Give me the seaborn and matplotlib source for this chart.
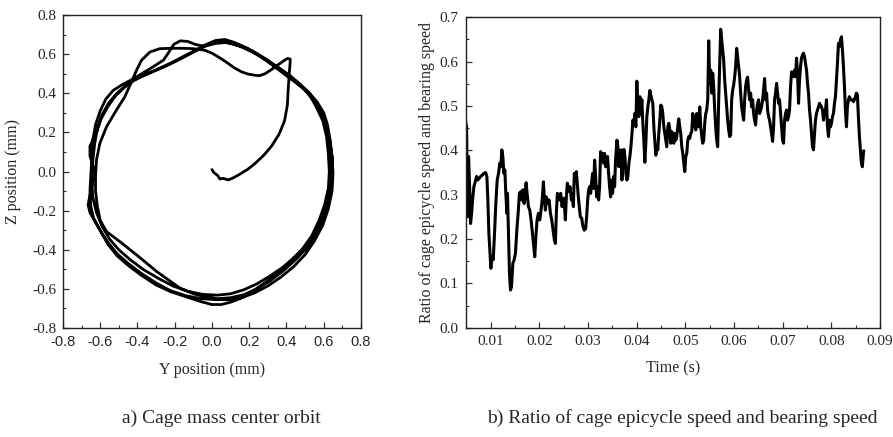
import numpy as np
import pandas as pd
import matplotlib
matplotlib.use("Agg")
import matplotlib.pyplot as plt
from matplotlib.ticker import MultipleLocator, FormatStrFormatter
import seaborn as sns

# ---------------- data: (a) cage mass center orbit ----------------
orbit_y = [
    0.000, 0.010, 0.030, 0.043, 0.060, 0.088, 0.115, 0.142, 0.190, 0.230, 0.280, 0.320, 0.360, 0.390, 0.405, 0.410, 0.415, 0.420, 0.420,
    0.405, 0.390, 0.365, 0.339, 0.310, 0.285, 0.255, 0.231, 0.195, 0.160, 0.120, 0.088, 0.060, 0.034, 0.000, -0.038,
    -0.100, -0.160, -0.220, -0.280, -0.333, -0.378, -0.405, -0.432, -0.468, -0.513, -0.566, -0.602, -0.620, -0.625, -0.625, -0.615, -0.600,
    -0.566, -0.495, -0.405, -0.297, -0.172, -0.100, -0.047, 0.030, 0.100,
    0.170, 0.240, 0.310, 0.380, 0.450, 0.510, 0.560, 0.600, 0.625, 0.635, 0.635, 0.630, 0.620, 0.600, 0.570, 0.530, 0.480, 0.420, 0.360,
    0.290, 0.220, 0.150, 0.090, 0.050, 0.000, -0.040, -0.080, -0.130, -0.190, -0.250, -0.310, -0.370, -0.420, -0.470, -0.520,
    -0.560, -0.595, -0.620, -0.655, -0.655, -0.635, -0.640, -0.655, -0.665, -0.655, -0.625, -0.595, -0.560, -0.510, -0.450, -0.380,
    -0.300, -0.220, -0.140, -0.060, 0.020, 0.090, 0.160, 0.230, 0.300, 0.370, 0.440, 0.500, 0.550, 0.595, 0.625, 0.645, 0.650, 0.645,
    0.630, 0.605, 0.575, 0.540, 0.490, 0.430, 0.360, 0.290, 0.220, 0.150, 0.080, 0.020, -0.040, -0.090, -0.130, -0.170, -0.205,
    -0.235, -0.260, -0.300, -0.360, -0.420, -0.480, -0.530, -0.570, -0.600, -0.625, -0.640, -0.645, -0.650, -0.655, -0.650, -0.635,
    -0.600, -0.560, -0.510, -0.450, -0.380, -0.300, -0.220, -0.140, -0.060, 0.000, 0.050, 0.100, 0.150, 0.200, 0.260, 0.320, 0.380,
    0.440, 0.490, 0.535, 0.575, 0.605, 0.625, 0.630, 0.625, 0.615, 0.595, 0.575, 0.560, 0.550, 0.520, 0.470, 0.400, 0.330, 0.260,
    0.190, 0.120, 0.070, 0.020, -0.030, -0.080, -0.150, -0.220, -0.300, -0.380, -0.450, -0.510, -0.555, -0.590, -0.615, -0.630,
    -0.640, -0.645, -0.640, -0.620, -0.590, -0.550, -0.500, -0.440, -0.370, -0.290, -0.210, -0.130, -0.050, 0.030, 0.100, 0.170,
    0.240, 0.310, 0.380, 0.440, 0.500, 0.545, 0.585, 0.615, 0.635, 0.645, 0.645, 0.635, 0.620, 0.600, 0.565, 0.520, 0.460, 0.390,
    0.320, 0.250, 0.180, 0.110, 0.060,
]
orbit_z = [
    0.010, -0.005, -0.020, -0.038, -0.035, -0.043, -0.032, -0.018, 0.010, 0.040, 0.085, 0.130, 0.190, 0.260, 0.340, 0.430, 0.500, 0.560, 0.575,
    0.578, 0.569, 0.552, 0.535, 0.515, 0.500, 0.490, 0.492, 0.498, 0.509, 0.530, 0.552, 0.570, 0.586, 0.605, 0.620,
    0.628, 0.630, 0.630, 0.628, 0.611, 0.569, 0.518, 0.458, 0.382, 0.314, 0.229, 0.144, 0.059, -0.020, -0.100, -0.180, -0.250,
    -0.307, -0.358, -0.426, -0.511, -0.596, -0.625, -0.638, -0.650, -0.645,
    -0.630, -0.600, -0.560, -0.510, -0.450, -0.390, -0.320, -0.240, -0.150, -0.060, 0.030, 0.120, 0.200, 0.270, 0.330, 0.390, 0.440, 0.490, 0.530,
    0.575, 0.615, 0.645, 0.665, 0.670, 0.660, 0.640, 0.620, 0.595, 0.565, 0.538, 0.513, 0.488, 0.465, 0.430, 0.385,
    0.330, 0.270, 0.200, 0.130, 0.080, 0.020, -0.050, -0.120, -0.170, -0.210, -0.260, -0.310, -0.360, -0.420, -0.470, -0.520,
    -0.570, -0.610, -0.635, -0.650, -0.655, -0.655, -0.645, -0.620, -0.585, -0.540, -0.485, -0.425, -0.355, -0.275, -0.190, -0.100, -0.010, 0.080,
    0.170, 0.260, 0.320, 0.370, 0.425, 0.475, 0.525, 0.570, 0.610, 0.640, 0.660, 0.655, 0.640, 0.650, 0.665, 0.668, 0.650,
    0.605, 0.570, 0.545, 0.510, 0.475, 0.445, 0.415, 0.370, 0.310, 0.240, 0.160, 0.070, -0.020, -0.100, -0.180, -0.240,
    -0.300, -0.370, -0.430, -0.480, -0.530, -0.580, -0.615, -0.640, -0.665, -0.680, -0.680, -0.668, -0.650, -0.625, -0.585, -0.545, -0.500,
    -0.445, -0.390, -0.330, -0.250, -0.170, -0.085, 0.000, 0.090, 0.180, 0.260, 0.300, 0.330, 0.348, 0.400, 0.440, 0.490, 0.540, 0.590,
    0.630, 0.660, 0.675, 0.670, 0.650, 0.625, 0.590, 0.555, 0.520, 0.490, 0.450, 0.400, 0.350, 0.290, 0.220, 0.140,
    0.050, -0.040, -0.130, -0.210, -0.280, -0.345, -0.400, -0.450, -0.500, -0.545, -0.585, -0.612, -0.628, -0.632, -0.625, -0.605,
    -0.575, -0.535, -0.490, -0.440, -0.385, -0.325, -0.260, -0.185, -0.105, -0.020, 0.070, 0.160, 0.240, 0.300, 0.355, 0.405, 0.455, 0.505,
    0.550, 0.595, 0.632, 0.655, 0.660,
]

# ---------------- data: (b) ratio of cage epicycle speed and bearing speed ----------------
time_ms = [
    4.88, 5.08, 5.29, 5.49, 5.70, 5.90, 6.11, 6.31, 6.58, 6.86, 7.13, 7.40, 7.68, 7.95, 8.29, 8.63, 8.98, 9.25, 9.45, 9.66,
    9.86, 10.07, 10.27, 10.55, 10.82, 11.09, 11.37, 11.64, 11.91, 12.12, 12.32, 12.53, 12.73, 12.94, 13.14, 13.35, 13.48, 13.69, 13.89, 14.10,
    14.30, 14.58, 14.85, 15.12, 15.40, 15.67, 15.94, 16.22, 16.42, 16.63, 16.90, 17.10, 17.31, 17.51, 17.79, 18.06, 18.33, 18.61, 18.88, 19.08,
    19.36, 19.56, 19.84, 20.11, 20.38, 20.66, 20.86, 21.07, 21.27, 21.48, 21.75, 22.02, 22.30, 22.57, 22.84, 23.11, 23.32, 23.52, 23.73, 24.00,
    24.21, 24.41, 24.69, 24.96, 25.16, 25.37, 25.57, 25.78, 26.05, 26.33, 26.60, 26.80, 27.01, 27.21, 27.42, 27.62, 27.83, 28.03, 28.24, 28.44,
    28.72, 28.99, 29.26, 29.54, 29.74, 29.95, 30.15, 30.36, 30.56, 30.77, 30.97, 31.17, 31.38, 31.58, 31.79, 31.99, 32.20, 32.40, 32.61, 32.81,
    33.02, 33.22, 33.43, 33.63, 33.84, 34.04, 34.25, 34.45, 34.66, 34.86, 35.07, 35.27, 35.48, 35.68, 35.96, 36.16, 36.37, 36.57, 36.78, 36.98,
    37.19, 37.39, 37.60, 37.80, 38.01, 38.21, 38.42, 38.62, 38.83, 39.03, 39.23, 39.44, 39.64, 39.85, 40.05, 40.26, 40.46, 40.67, 40.87, 41.08,
    41.28, 41.49, 41.69, 41.90, 42.10, 42.31, 42.51, 42.72, 42.92, 43.13, 43.33, 43.54, 43.74, 43.95, 44.15, 44.36, 44.56, 44.77, 44.97, 45.18,
    45.38, 45.59, 45.79, 46.00, 46.20, 46.41, 46.61, 46.82, 47.02, 47.23, 47.43, 47.64, 47.84, 48.05, 48.25, 48.46, 48.66, 48.87, 49.07, 49.28,
    49.48, 49.69, 49.89, 50.10, 50.30, 50.51, 50.71, 50.92, 51.12, 51.33, 51.53, 51.74, 51.94, 52.15, 52.35, 52.56, 52.76, 52.97, 53.17, 53.38,
    53.58, 53.79, 53.99, 54.20, 54.40, 54.61, 54.81, 55.01, 55.22, 55.42, 55.63, 55.83, 56.04, 56.24, 56.45, 56.65, 56.86, 57.06, 57.27, 57.47,
    57.68, 57.88, 58.09, 58.29, 58.50, 58.70, 58.91, 59.11, 59.32, 59.52, 59.73, 59.93, 60.14, 60.34, 60.55, 60.75, 60.96, 61.16, 61.37, 61.57,
    61.78, 61.98, 62.19, 62.39, 62.60, 62.80, 63.01, 63.21, 63.42, 63.62, 63.83, 64.03, 64.24, 64.44, 64.65, 64.85, 65.06, 65.26, 65.47, 65.67,
    65.88, 66.08, 66.29, 66.49, 66.70, 66.90, 67.11, 67.31, 67.52, 67.72, 67.93, 68.13, 68.34, 68.54, 68.75, 68.95, 69.16, 69.36, 69.57, 69.77,
    69.98, 70.18, 70.39, 70.59, 70.80, 71.00, 71.21, 71.41, 71.62, 71.82, 72.03, 72.23, 72.44, 72.64, 72.85, 73.05, 73.26, 73.46, 73.67, 73.87,
    74.08, 74.28, 74.49, 74.69, 74.90, 75.10, 75.31, 75.51, 75.72, 75.92, 76.13, 76.33, 76.54, 76.74, 76.95, 77.15, 77.36, 77.56, 77.77, 77.97,
    78.18, 78.38, 78.59, 78.79, 79.00, 79.20, 79.41, 79.61, 79.82, 80.02, 80.23, 80.43, 80.64, 80.84, 81.05, 81.25, 81.46, 81.66, 81.87, 82.07,
    82.28, 82.48, 82.69, 82.89, 83.10, 83.30, 83.51, 83.71, 83.92, 84.12, 84.32, 84.53, 84.73, 84.94, 85.14, 85.35, 85.55, 85.76, 85.96, 86.17,
    86.37, 86.58, 86.65,
]
speed_ratio = [
    0.465, 0.453, 0.250, 0.386, 0.318, 0.235, 0.258, 0.288, 0.318, 0.329, 0.341, 0.333, 0.337, 0.341, 0.344, 0.348, 0.350, 0.341, 0.288, 0.213,
    0.175, 0.134, 0.160, 0.153, 0.213, 0.280, 0.333, 0.348, 0.371, 0.363, 0.401, 0.386, 0.348, 0.356, 0.303, 0.258, 0.303, 0.213, 0.123, 0.085,
    0.092, 0.145, 0.153, 0.168, 0.220, 0.258, 0.303, 0.307, 0.288, 0.311, 0.280, 0.303, 0.327, 0.303, 0.273, 0.265, 0.243, 0.213, 0.183, 0.160,
    0.213, 0.243, 0.258, 0.243, 0.265, 0.295, 0.329, 0.288, 0.265, 0.295, 0.280, 0.288, 0.258, 0.243, 0.220, 0.198, 0.190, 0.258, 0.303, 0.295,
    0.288, 0.303, 0.273, 0.292, 0.280, 0.243, 0.295, 0.326, 0.307, 0.318, 0.288, 0.299, 0.273, 0.348, 0.333, 0.352, 0.322, 0.295, 0.273, 0.250,
    0.247, 0.228, 0.220, 0.224, 0.250, 0.288, 0.311, 0.318, 0.303, 0.329, 0.348, 0.314, 0.378, 0.341, 0.295, 0.318, 0.288, 0.318, 0.397, 0.386,
    0.393, 0.371, 0.393, 0.363, 0.371, 0.386, 0.348, 0.318, 0.295, 0.333, 0.303, 0.341, 0.318, 0.378, 0.423, 0.408, 0.363, 0.386, 0.401, 0.333,
    0.371, 0.402, 0.386, 0.348, 0.333, 0.341, 0.371, 0.386, 0.408, 0.435, 0.468, 0.461, 0.483, 0.453, 0.556, 0.498, 0.476, 0.521, 0.483, 0.514,
    0.461, 0.423, 0.373, 0.416, 0.476, 0.498, 0.514, 0.535, 0.525, 0.514, 0.506, 0.453, 0.423, 0.389, 0.408, 0.401, 0.438, 0.468, 0.502, 0.498,
    0.483, 0.453, 0.438, 0.423, 0.408, 0.453, 0.461, 0.446, 0.416, 0.442, 0.431, 0.416, 0.438, 0.423, 0.431, 0.453, 0.471, 0.453, 0.438, 0.408,
    0.393, 0.371, 0.352, 0.386, 0.393, 0.423, 0.431, 0.427, 0.438, 0.442, 0.483, 0.453, 0.476, 0.446, 0.483, 0.468, 0.453, 0.498, 0.453, 0.431,
    0.416, 0.423, 0.461, 0.483, 0.491, 0.514, 0.647, 0.551, 0.581, 0.529, 0.574, 0.544, 0.491, 0.453, 0.423, 0.408, 0.514, 0.589, 0.673, 0.649,
    0.626, 0.604, 0.559, 0.529, 0.498, 0.468, 0.446, 0.431, 0.435, 0.514, 0.536, 0.547, 0.566, 0.589, 0.630, 0.611, 0.589, 0.566, 0.529, 0.498,
    0.483, 0.468, 0.514, 0.544, 0.559, 0.565, 0.536, 0.514, 0.529, 0.498, 0.514, 0.483, 0.468, 0.457, 0.491, 0.506, 0.514, 0.483, 0.491, 0.498,
    0.514, 0.536, 0.562, 0.514, 0.529, 0.491, 0.476, 0.468, 0.453, 0.438, 0.420, 0.453, 0.514, 0.529, 0.551, 0.529, 0.506, 0.514, 0.483, 0.453,
    0.423, 0.416, 0.468, 0.483, 0.491, 0.468, 0.476, 0.491, 0.544, 0.577, 0.574, 0.566, 0.581, 0.566, 0.608, 0.574, 0.506, 0.559, 0.589, 0.608,
    0.615, 0.619, 0.611, 0.596, 0.581, 0.551, 0.529, 0.491, 0.468, 0.438, 0.408, 0.401, 0.438, 0.468, 0.483, 0.491, 0.498, 0.506, 0.502, 0.498,
    0.491, 0.468, 0.483, 0.491, 0.514, 0.453, 0.431, 0.468, 0.453, 0.461, 0.476, 0.483, 0.506, 0.521, 0.559, 0.596, 0.641, 0.634, 0.649, 0.656,
    0.626, 0.589, 0.544, 0.491, 0.453, 0.498, 0.514, 0.521, 0.514, 0.514, 0.514, 0.510, 0.514, 0.521, 0.529, 0.525, 0.476, 0.431, 0.401, 0.371,
    0.363, 0.393, 0.399,
]

orbit_xticks = [-0.8, -0.6, -0.4, -0.2, 0.0, 0.2, 0.4, 0.6, 0.8]
time_xticks = [0.01, 0.02, 0.03, 0.04, 0.05, 0.06, 0.07, 0.08, 0.09]

# ---------------- style ----------------
sns.set_style("ticks")
plt.rcParams["font.family"] = ["Liberation Serif", "DejaVu Serif"]
plt.rcParams["axes.unicode_minus"] = False
plt.rcParams["axes.edgecolor"] = "#222222"
plt.rcParams["axes.linewidth"] = 1.0

orbit_df = pd.DataFrame({"Y": orbit_y, "Z": orbit_z})
speed_df = pd.DataFrame({"t": np.array(time_ms) / 1000.0, "r": speed_ratio})

fig = plt.figure(figsize=(8.93, 4.37), dpi=100)
ax1 = fig.add_axes([0.0705, 0.2494, 0.3337, 0.7162])
ax2 = fig.add_axes([0.5215, 0.2501, 0.4640, 0.7103])

sns.lineplot(data=orbit_df, x="Y", y="Z", sort=False, estimator=None,
             color="black", linewidth=2.0, ax=ax1)
sns.lineplot(data=speed_df, x="t", y="r", sort=False, estimator=None,
             color="black", linewidth=2.2, ax=ax2)

# ----- left axes -----
ax1.set_xlim(-0.8, 0.8)
ax1.set_ylim(-0.8, 0.8)
ax1.set_xticks(orbit_xticks)
ax1.set_yticks(orbit_xticks)
ax1.xaxis.set_minor_locator(MultipleLocator(0.1))
ax1.yaxis.set_minor_locator(MultipleLocator(0.1))
ax1.xaxis.set_major_formatter(FormatStrFormatter("%.1f"))
ax1.yaxis.set_major_formatter(FormatStrFormatter("%.1f"))
for lab in ax1.get_xticklabels():
    lab.set_family(["Liberation Sans", "DejaVu Sans"])
    lab.set_fontsize(10.5)
for lab in ax1.get_yticklabels():
    lab.set_fontsize(11)
ax1.set_xlabel("Y position (mm)", fontsize=11.5)
ax1.set_ylabel("Z position (mm)", fontsize=11.5)
ax1.xaxis.set_label_coords(0.5, -0.11)
ax1.yaxis.set_label_coords(-0.14, 0.5)

# ----- right axes -----
ax2.set_xlim(0.0049, 0.09)
ax2.set_ylim(0.0, 0.7)
ax2.set_xticks(time_xticks)
ax2.xaxis.set_minor_locator(MultipleLocator(0.005))
ax2.yaxis.set_major_locator(MultipleLocator(0.1))
ax2.yaxis.set_minor_locator(MultipleLocator(0.05))
ax2.xaxis.set_major_formatter(FormatStrFormatter("%.2f"))
ax2.yaxis.set_major_formatter(FormatStrFormatter("%.1f"))
for lab in ax2.get_xticklabels() + ax2.get_yticklabels():
    lab.set_fontsize(11)
ax2.set_xlabel("Time (s)", fontsize=11.5)
ax2.set_ylabel("Ratio of cage epicycle speed and bearing speed", fontsize=11.5)
ax2.xaxis.set_label_coords(0.5, -0.105)
ax2.yaxis.set_label_coords(-0.075, 0.5)

for ax in (ax1, ax2):
    ax.tick_params(which="both", direction="in", top=False, right=False,
                   color="#333333")
    ax.tick_params(which="major", length=4, width=0.9, pad=5)
    ax.tick_params(which="minor", length=2.5, width=0.8)
    for s in ax.spines.values():
        s.set_visible(True)
        s.set_linewidth(1.0)

fig.text(0.248, 0.043, "a) Cage mass center orbit", ha="center", va="center", fontsize=14)
fig.text(0.764, 0.043, "b) Ratio of cage epicycle speed and bearing speed", ha="center", va="center", fontsize=14)

fig.savefig("out.png", dpi=100, facecolor="white")
